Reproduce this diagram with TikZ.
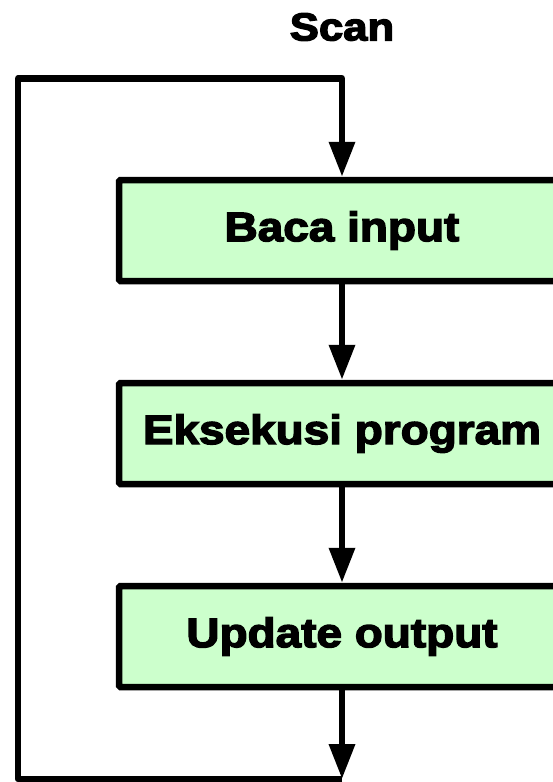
\documentclass[tikz,border=0pt]{standalone}
\usepackage{fontspec}
\newfontfamily\diafont{Liberation Sans}[FakeStretch=1.12, BoldFeatures={FakeBold=3.5}]
\usetikzlibrary{arrows.meta}
\definecolor{boxgreen}{HTML}{CCFFCC}
\tikzset{
  stepbox/.style={draw=black, fill=boxgreen, line width=6.5pt, rounded corners=1.5pt,
    minimum width=446pt, minimum height=101pt, inner sep=0pt,
    font=\diafont\bfseries\fontsize{41}{41}\selectfont},
  flow/.style={line width=6.5pt, line join=round, -{Triangle[length=35pt, width=25pt]}},
  titletext/.style={font=\diafont\bfseries\fontsize{39}{39}\selectfont, inner sep=0pt}
}
\begin{document}
\begin{tikzpicture}[x=1pt, y=-1pt]
\useasboundingbox (0,0) rectangle (553,782);
\node[titletext] (title) at (342,27) {Scan};
\node[stepbox] (b1) at (342,230.5) {Baca input};
\node[stepbox] (b2) at (342,433.5) {Eksekusi program};
\node[stepbox] (b3) at (342,636.5) {Update output};
\coordinate (bot) at (342,779);
\coordinate (bl) at (18,779);
\coordinate (tl) at (18,78.5);
\coordinate (tr) at (342,78.5);
\draw[flow] (b1) -- (b2);
\draw[flow] (b2) -- (b3);
\draw[flow] (b3) -- (bot);
\draw[flow] (bot) -- (bl) -- (tl) -- (tr) -- (b1.north);
\end{tikzpicture}
\end{document}
